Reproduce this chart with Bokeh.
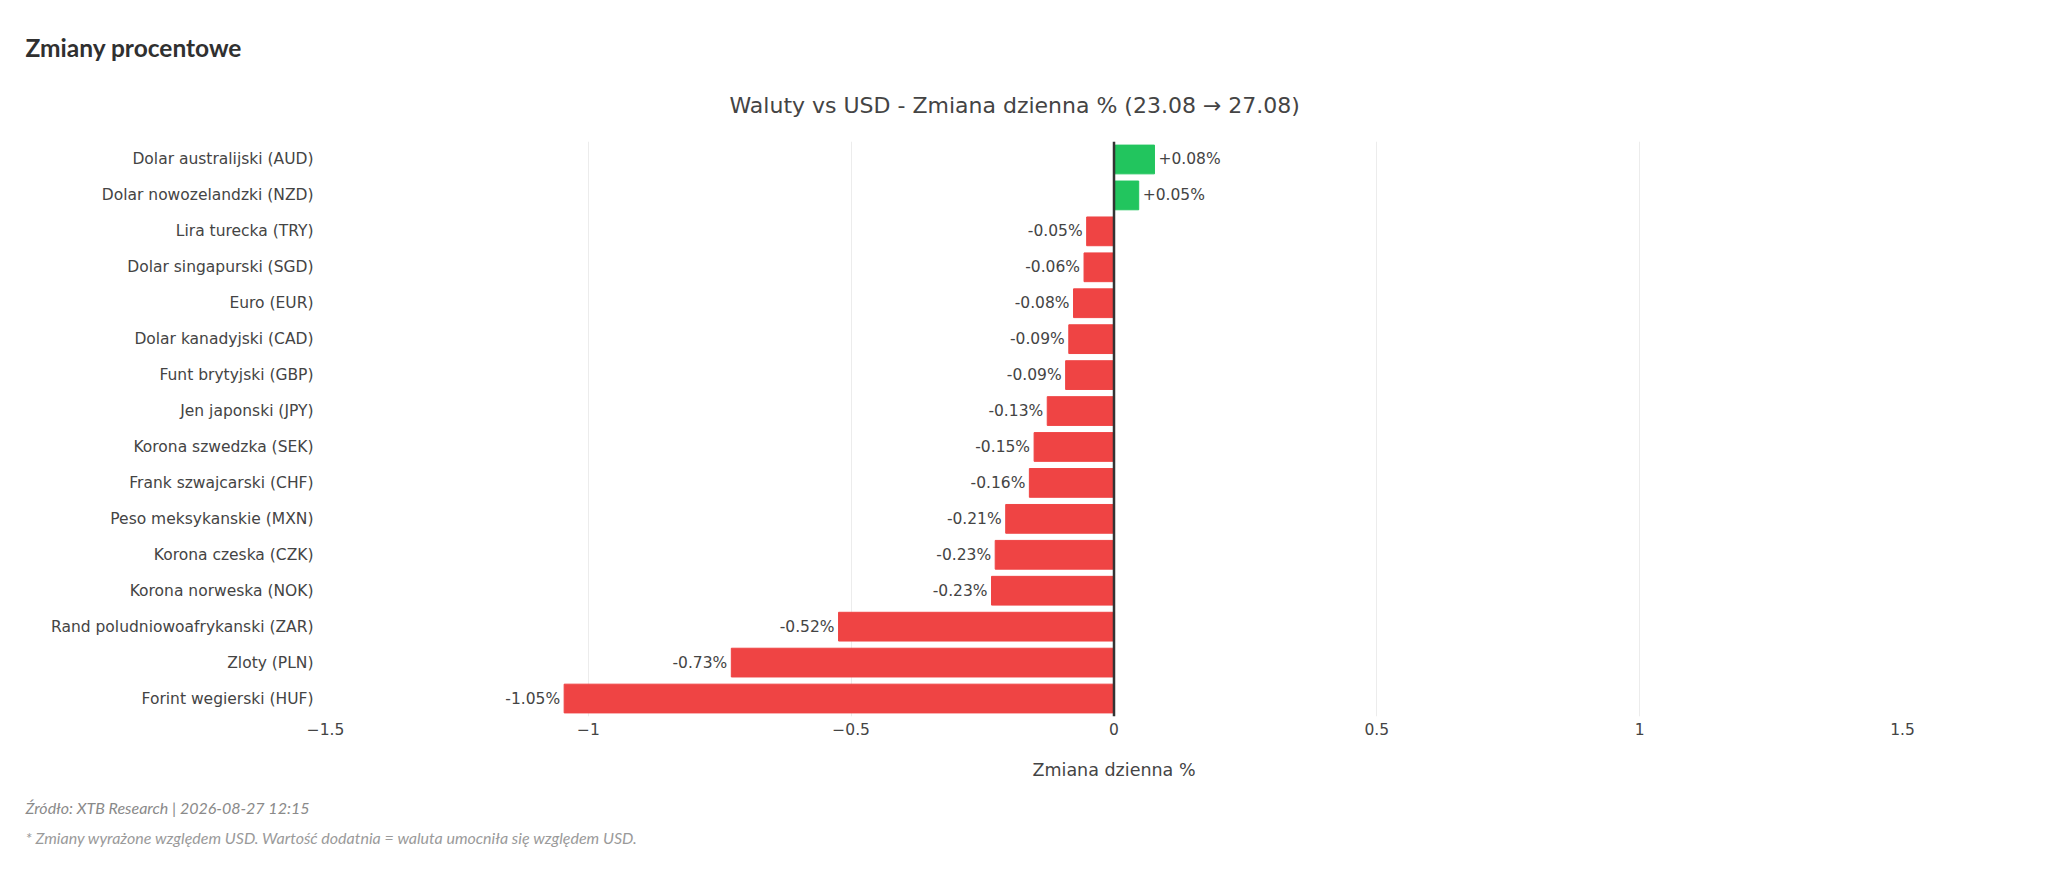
from bokeh.plotting import figure
from bokeh.models import (FactorRange, Range1d, Span, Title, FixedTicker, ColumnDataSource)
from bokeh.core.properties import value
from bokeh.embed import file_html
from bokeh.resources import INLINE

# ---- data ----
currencies = [
    "Dolar australijski (AUD)", "Dolar nowozelandzki (NZD)", "Lira turecka (TRY)",
    "Dolar singapurski (SGD)", "Euro (EUR)", "Dolar kanadyjski (CAD)",
    "Funt brytyjski (GBP)", "Jen japonski (JPY)", "Korona szwedzka (SEK)",
    "Frank szwajcarski (CHF)", "Peso meksykanskie (MXN)", "Korona czeska (CZK)",
    "Korona norweska (NOK)", "Rand poludniowoafrykanski (ZAR)", "Zloty (PLN)",
    "Forint wegierski (HUF)",
]
changes = [0.077, 0.047, -0.052, -0.057, -0.077, -0.086, -0.092, -0.127, -0.152, -0.161,
           -0.206, -0.226, -0.233, -0.524, -0.728, -1.046]
x_ticks = [-1.5, -1.0, -0.5, 0.0, 0.5, 1.0, 1.5]
x_tick_labels = ["\u22121.5", "\u22121", "\u22120.5", "0", "0.5", "1", "1.5"]

header_text = "Zmiany procentowe"
title_text = "Waluty vs USD - Zmiana dzienna % (23.08 \u2192 27.08)"
axis_title = "Zmiana dzienna %"
footer1 = "\u0179r\u00f3d\u0142o: XTB Research | 2026-08-27 12:15"
footer2 = "* Zmiany wyra\u017cone wzgl\u0119dem USD. Warto\u015b\u0107 dodatnia = waluta umocni\u0142a si\u0119 wzgl\u0119dem USD."

GREEN = "#22c55e"
RED = "#ef4444"
TXT = "#444444"
FONT = "DejaVu Sans"

W, H = 2048, 870
FL, FT, FW, FH = 325, 141, 1577, 575

colors = [GREEN if v >= 0 else RED for v in changes]
labels = [("+%.2f%%" % v) if v >= 0 else ("%.2f%%" % v) for v in changes]

src = ColumnDataSource(dict(y=currencies, x=changes, c=colors, t=labels))
pos = ColumnDataSource(dict(y=[c for c, v in zip(currencies, changes) if v >= 0],
                            x=[v for v in changes if v >= 0],
                            t=[l for l, v in zip(labels, changes) if v >= 0]))
neg = ColumnDataSource(dict(y=[c for c, v in zip(currencies, changes) if v < 0],
                            x=[v for v in changes if v < 0],
                            t=[l for l, v in zip(labels, changes) if v < 0]))

p = figure(y_range=FactorRange(*reversed(currencies)), x_range=Range1d(-1.5, 1.5),
           frame_width=FW, frame_height=FH, title=None,
           min_border_left=FL, min_border_top=FT,
           min_border_right=W - FL - FW, min_border_bottom=H - FT - FH,
           output_backend="svg", toolbar_location=None, background_fill_color="white",
           border_fill_color="white")
p.outline_line_color = None

p.hbar(y="y", right="x", left=0, height=0.8, color="c", source=src)

p.text(x="x", y="y", text="t", source=pos, x_offset=4, text_align="left",
       text_baseline="middle", text_font=value(FONT), text_font_size="15.5px",
       text_color=TXT)
p.text(x="x", y="y", text="t", source=neg, x_offset=-4, text_align="right",
       text_baseline="middle", text_font=value(FONT), text_font_size="15.5px",
       text_color=TXT)

p.add_layout(Span(location=0, dimension="height", line_color="#333333", line_width=2.5))

p.xgrid.grid_line_color = "#ececec"
p.xgrid.ticker = FixedTicker(ticks=x_ticks)
p.ygrid.grid_line_color = None

xa = p.xaxis[0]
xa.ticker = FixedTicker(ticks=x_ticks)
xa.major_label_overrides = {t: l for t, l in zip(x_ticks, x_tick_labels)}
ya = p.yaxis[0]
for ax in (xa, ya):
    ax.axis_line_color = None
    ax.major_tick_line_color = None
    ax.minor_tick_line_color = None
    ax.major_label_text_font = FONT
    ax.major_label_text_font_size = "15.5px"
    ax.major_label_text_color = TXT
xa.major_label_standoff = 0
ya.major_label_standoff = 6
xa.axis_label = axis_title
xa.axis_label_text_font = FONT
xa.axis_label_text_font_size = "17.5px"
xa.axis_label_text_font_style = "normal"
xa.axis_label_text_color = TXT
xa.axis_label_standoff = 22

# above: first added sits next to the frame (chart title), then the header
p.add_layout(Title(text=title_text, align="left", offset=729 - FL, text_font=FONT,
                   text_font_size="22px", text_font_style="normal", text_color=TXT,
                   standoff=47), "above")
p.add_layout(Title(text=header_text, align="left", offset=25 - FL, text_font="Lato",
                   text_font_size="24.5px", text_font_style="bold", text_color="#303030",
                   standoff=11), "above")

# below: footers
p.add_layout(Title(text=footer1, align="left", offset=25 - FL, text_font="Lato",
                   text_font_size="16px", text_font_style="italic", text_color="#8a8a8a",
                   standoff=26), "below")
p.add_layout(Title(text=footer2, align="left", offset=25 - FL, text_font="Lato",
                   text_font_size="16px", text_font_style="italic", text_color="#9a9a9a",
                   standoff=-3, vertical_align="top"), "below")

open("out.html", "w").write(file_html(p, INLINE))
